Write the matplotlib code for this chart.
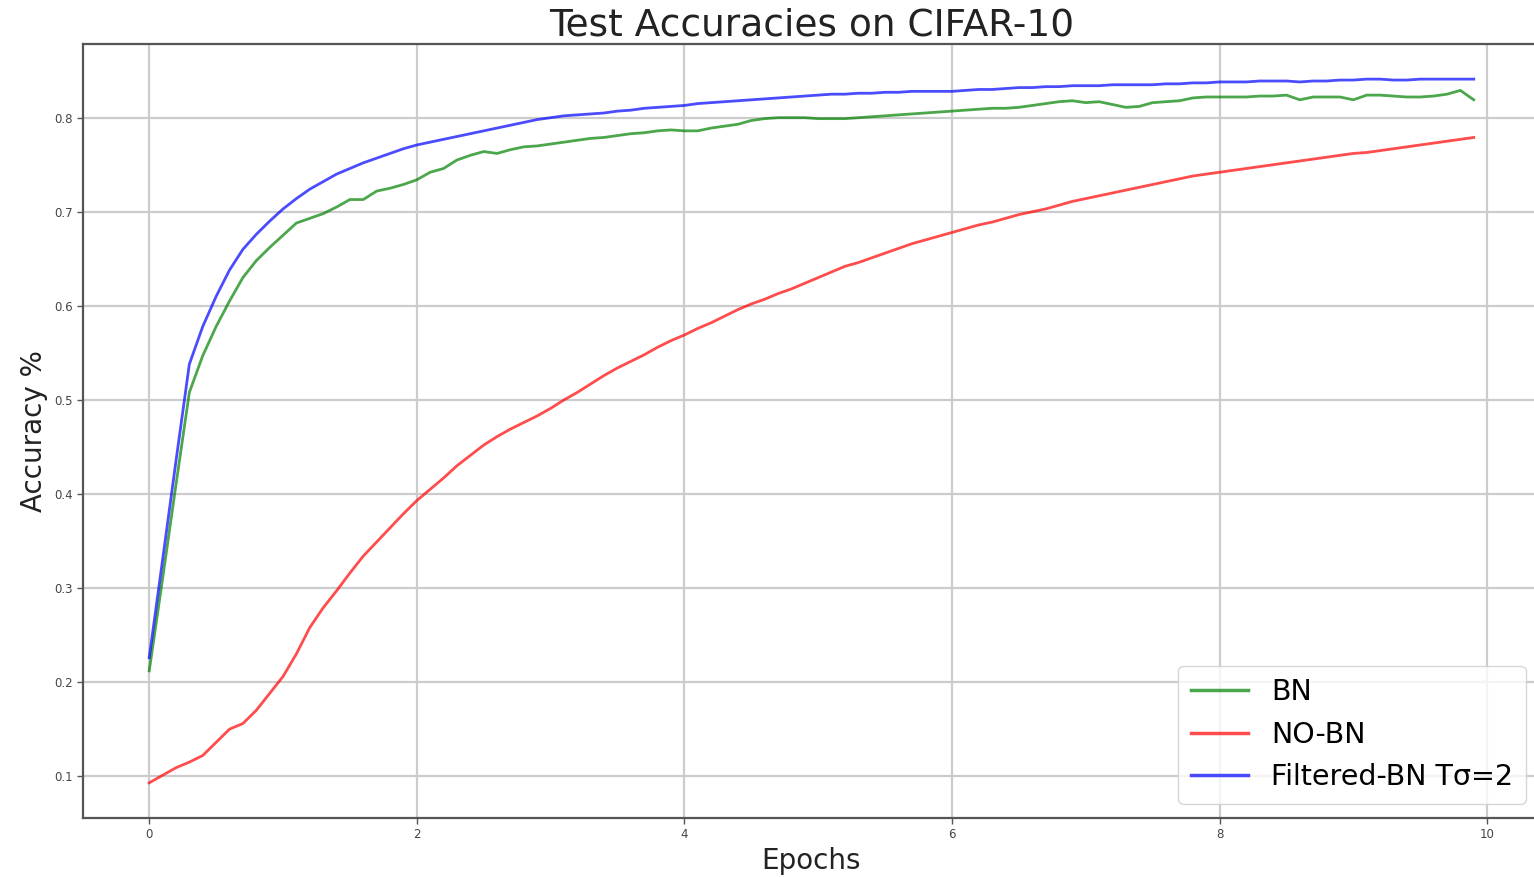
import numpy as np
import matplotlib
matplotlib.use("Agg")
import matplotlib.pyplot as plt

# Test accuracy per evaluation step (every 0.1 epoch)
epochs = np.arange(100) / 10.0

bn = [0.212, 0.310, 0.410, 0.508, 0.547, 0.578, 0.605, 0.630, 0.648, 0.662,
      0.675, 0.688, 0.693, 0.698, 0.705, 0.713, 0.713, 0.722, 0.725, 0.729,
      0.734, 0.742, 0.746, 0.755, 0.760, 0.764, 0.762, 0.766, 0.769, 0.770,
      0.772, 0.774, 0.776, 0.778, 0.779, 0.781, 0.783, 0.784, 0.786, 0.787,
      0.786, 0.786, 0.789, 0.791, 0.793, 0.797, 0.799, 0.800, 0.800, 0.800,
      0.799, 0.799, 0.799, 0.800, 0.801, 0.802, 0.803, 0.804, 0.805, 0.806,
      0.807, 0.808, 0.809, 0.810, 0.810, 0.811, 0.813, 0.815, 0.817, 0.818,
      0.816, 0.817, 0.814, 0.811, 0.812, 0.816, 0.817, 0.818, 0.821, 0.822,
      0.822, 0.822, 0.822, 0.823, 0.823, 0.824, 0.819, 0.822, 0.822, 0.822,
      0.819, 0.824, 0.824, 0.823, 0.822, 0.822, 0.823, 0.825, 0.829, 0.819]

no_bn = [0.093, 0.101, 0.109, 0.115, 0.122, 0.136, 0.150, 0.156, 0.170, 0.188,
         0.206, 0.230, 0.258, 0.279, 0.297, 0.316, 0.334, 0.349, 0.364, 0.379,
         0.393, 0.405, 0.417, 0.430, 0.441, 0.452, 0.461, 0.469, 0.476, 0.483,
         0.491, 0.500, 0.508, 0.517, 0.526, 0.534, 0.541, 0.548, 0.556, 0.563,
         0.569, 0.576, 0.582, 0.589, 0.596, 0.602, 0.607, 0.613, 0.618, 0.624,
         0.630, 0.636, 0.642, 0.646, 0.651, 0.656, 0.661, 0.666, 0.670, 0.674,
         0.678, 0.682, 0.686, 0.689, 0.693, 0.697, 0.700, 0.703, 0.707, 0.711,
         0.714, 0.717, 0.720, 0.723, 0.726, 0.729, 0.732, 0.735, 0.738, 0.740,
         0.742, 0.744, 0.746, 0.748, 0.750, 0.752, 0.754, 0.756, 0.758, 0.760,
         0.762, 0.763, 0.765, 0.767, 0.769, 0.771, 0.773, 0.775, 0.777, 0.779]

filtered_bn = [0.226, 0.330, 0.435, 0.538, 0.578, 0.610, 0.638, 0.660, 0.676, 0.690,
               0.703, 0.714, 0.724, 0.732, 0.740, 0.746, 0.752, 0.757, 0.762, 0.767,
               0.771, 0.774, 0.777, 0.780, 0.783, 0.786, 0.789, 0.792, 0.795, 0.798,
               0.800, 0.802, 0.803, 0.804, 0.805, 0.807, 0.808, 0.810, 0.811, 0.812,
               0.813, 0.815, 0.816, 0.817, 0.818, 0.819, 0.820, 0.821, 0.822, 0.823,
               0.824, 0.825, 0.825, 0.826, 0.826, 0.827, 0.827, 0.828, 0.828, 0.828,
               0.828, 0.829, 0.830, 0.830, 0.831, 0.832, 0.832, 0.833, 0.833, 0.834,
               0.834, 0.834, 0.835, 0.835, 0.835, 0.835, 0.836, 0.836, 0.837, 0.837,
               0.838, 0.838, 0.838, 0.839, 0.839, 0.839, 0.838, 0.839, 0.839, 0.840,
               0.840, 0.841, 0.841, 0.840, 0.840, 0.841, 0.841, 0.841, 0.841, 0.841]

labels = ["BN", "NO-BN", "Filtered-BN T\u03c3=2"]
colors = ["green", "red", "blue"]

fig = plt.figure(figsize=(15.34, 8.77), dpi=100)
ax = fig.add_axes([0.0541, 0.0673, 0.9498, 0.8826])

for series, lab, col in zip([bn, no_bn, filtered_bn], labels, colors):
    ax.plot(epochs, series, color=col, alpha=0.7, linewidth=2.0, label=lab)

ax.set_xticks([0, 2, 4, 6, 8, 10])
ax.set_yticks([0.1, 0.2, 0.3, 0.4, 0.5, 0.6, 0.7, 0.8])
ax.tick_params(axis="both", labelsize=8.5, labelcolor="#444444", color="#555555",
               length=4, width=1.0)
ax.grid(True, color="#cccccc", linewidth=1.6)
for sp in ax.spines.values():
    sp.set_color("#555555")
    sp.set_linewidth(1.6)

ax.set_title("Test Accuracies on CIFAR-10", fontsize=27, color="#222222")
ax.set_xlabel("Epochs", fontsize=20, color="#222222")
ax.set_ylabel("Accuracy %", fontsize=20, color="#222222")

leg = ax.legend(loc="lower right", fontsize=20.5, handlelength=2.0,
                borderpad=0.45, labelspacing=0.5, handletextpad=0.8,
                bbox_to_anchor=(1.0, 0.0))
for line in leg.get_lines():
    line.set_linewidth(2.5)

fig.savefig("out.png", dpi=100)
